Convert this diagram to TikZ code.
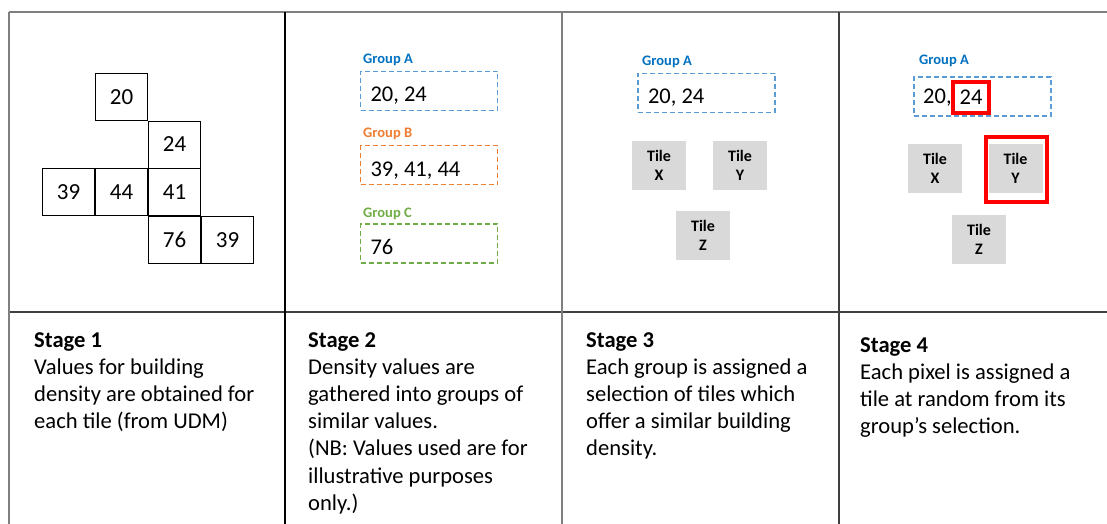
\documentclass[tikz,border=0pt]{standalone}
\usepackage{fontspec}
\setmainfont{Carlito}
\usetikzlibrary{positioning}

\definecolor{rulegrey}{HTML}{7F7F7F}
\definecolor{ruledark}{HTML}{3F3F3F}
\definecolor{grpAtext}{HTML}{0070C0}
\definecolor{grpAline}{HTML}{5B9BD5}
\definecolor{grpB}{HTML}{ED7D31}
\definecolor{grpC}{HTML}{70AD47}
\definecolor{tilegrey}{HTML}{D9D9D9}
\definecolor{pickred}{HTML}{FF0000}

\tikzset{
    cell/.style={draw, line width=1pt, minimum width=52pt, minimum height=47pt,
        inner sep=0pt, font=\fontsize{23}{26}\selectfont},
    groupbox/.style={draw=#1, dashed, dash pattern=on 5pt off 3pt, line width=1.1pt,
        minimum width=137pt, minimum height=39pt, inner xsep=10pt, inner ysep=0pt,
        text width=117pt, text height=22pt, text depth=0pt, align=flush left,
        font=\fontsize{22.5}{26}\selectfont\frenchspacing},
    grouplabel/.style={anchor=base west, inner sep=0pt, text=#1,
        font=\fontsize{14.5}{17}\selectfont\bfseries},
    tile/.style={fill=tilegrey, minimum width=54pt, minimum height=49pt, inner sep=0pt,
        align=center, font=\fontsize{16}{18.5}\selectfont\bfseries},
    pick/.style={draw=pickred, line width=3.6pt, inner sep=0pt},
    stagetext/.style={anchor=north west, inner sep=0pt, align=left,
        font=\fontsize{22.6}{27.2}\selectfont\frenchspacing},
}

\begin{document}
\begin{tikzpicture}[x=1pt, y=-1pt]
    % the frame
    \useasboundingbox (0,0) rectangle (1107,524);
    \draw[rulegrey, line width=1.3pt] (9,12) -- (1107,12);
    \draw[ruledark, line width=1.2pt] (9,312) -- (1107,312);
    \draw[rulegrey, line width=1.3pt] (9,12) -- (9,524);
    \foreach \x/\c in {285/black, 562/rulegrey, 839/ruledark} {
        \draw[\c, line width=1.3pt] (\x,12) -- (\x,524);
    };

    % stage 1: density per tile
    \foreach \nm/\val/\cx/\cy in {a/20/121.5/97, b/24/174.5/144.5, c/39/68.5/192,
            d/44/121.5/192, e/41/174.5/192, f/76/174.5/240, g/39/227.5/240} {
        \node[cell] (cell\nm) at (\cx,\cy) {\val};
    };

    % stage 2: groups
    \node[grouplabel=grpAtext] (labA2) at (363,64) {Group A};
    \node[groupbox=grpAline] (grpA2) at (429,91) {20, 24};
    \node[grouplabel=grpB] (labB2) at (363,137) {Group B};
    \node[groupbox=grpB] (grpB2) at (429,165) {39, 41, 44};
    \node[grouplabel=grpC] (labC2) at (363,217) {Group C};
    \node[groupbox=grpC] (grpC2) at (429,243.5) {76};

    % stage 3: tiles for group A
    \node[grouplabel=grpAtext] (labA3) at (642,66) {Group A};
    \node[groupbox=grpAline] (grpA3) at (706.5,93) {20, 24};
    \node[tile] (tileX3) at (659,165.5) {Tile\\X};
    \node[tile] (tileY3) at (740,165.5) {Tile\\Y};
    \node[tile] (tileZ3) at (703,235.5) {Tile\\Z};

    % stage 4: one value, one tile
    \node[grouplabel=grpAtext] (labA4) at (919,65) {Group A};
    \node[groupbox=grpAline] (grpA4) at (982.5,96.5) {};
    \node[anchor=base west, inner sep=0pt, font=\fontsize{22.5}{26}\selectfont] (val20) at (923,104) {20,};
    \node[pick, minimum width=36pt, minimum height=31pt,
        font=\fontsize{22.5}{26}\selectfont] (val24) at (971,97.5) {24};
    \node[tile] (tileX4) at (935,168.5) {Tile\\X};
    \node[tile] (tileY4) at (1015.5,168.5) {Tile\\Y};
    \node[tile] (tileZ4) at (979,239.5) {Tile\\Z};
    \node[pick, minimum width=61pt, minimum height=65pt] (pickY) at (1016.5,169.5) {};

    % descriptions
    \node[stagetext] (desc1) at (34,332) {\textbf{Stage 1}\\Values for building\\density are obtained for\\each tile (from UDM)};
    \node[stagetext] (desc2) at (308,332) {\textbf{Stage 2}\\Density values are\\gathered into groups of\\similar values.\\(NB: Values used are for\\illustrative purposes\\only.)};
    \node[stagetext] (desc3) at (586,332) {\textbf{Stage 3}\\Each group is assigned a\\selection of tiles which\\offer a similar building\\density.};
    \node[stagetext] (desc4) at (860,337) {\textbf{Stage 4}\\Each pixel is assigned a\\tile at random from its\\group’s selection.};
\end{tikzpicture}
\end{document}
